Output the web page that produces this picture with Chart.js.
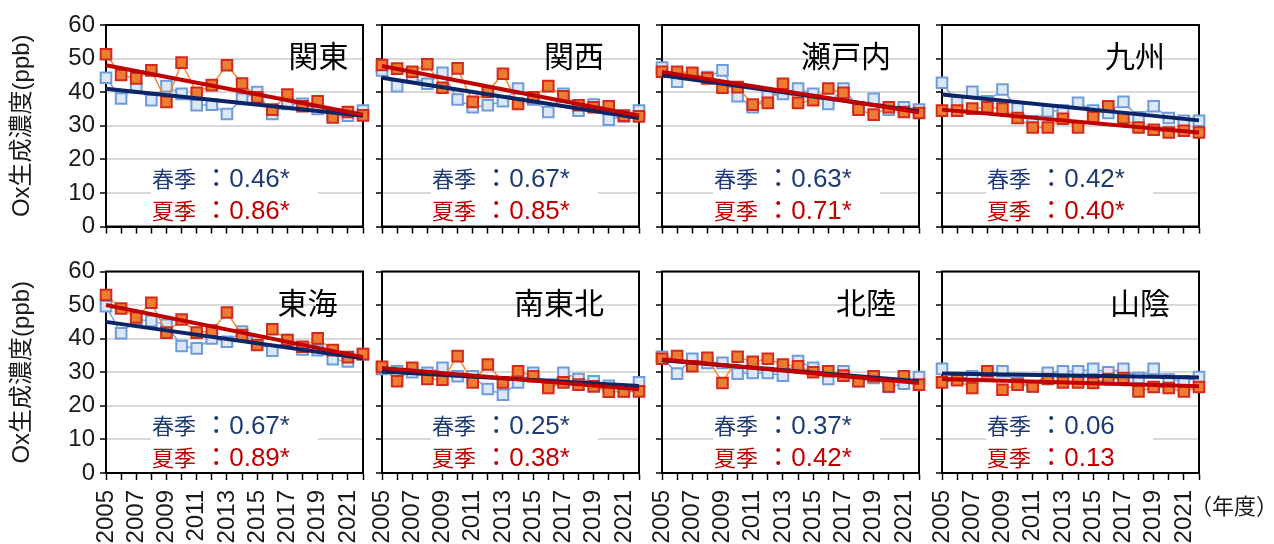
<!DOCTYPE html>
<html><head><meta charset="utf-8">
<script src="https://cdn.jsdelivr.net/npm/chart.js@4.4.1/dist/chart.umd.min.js"></script>
<style>
html,body{margin:0;padding:0;background:#fff;overflow:hidden;}
#wrap{position:relative;width:1274px;height:544px;}
#wrap canvas{position:absolute;left:0;top:0;}
</style></head><body><div id="wrap"></div>
<script>
// ---------- data ----------
const YEARS = [2005,2006,2007,2008,2009,2010,2011,2012,2013,2014,2015,2016,2017,2018,2019,2020,2021,2022];
const Y_MIN = 0, Y_MAX = 60, Y_STEP = 10;
const REGIONS = ['関東','関西','瀬戸内','九州','東海','南東北','北陸','山陰'];

const SPRING_KANTO = [44.3,38.1,41.5,37.6,41.8,39.5,36.1,36.3,33.5,38.0,40.0,33.5,36.5,36.5,35.0,33.0,33.0,34.5];
const SUMMER_KANTO = [51.3,45.1,44.1,46.5,37.1,48.8,39.8,42.1,48.0,42.6,38.5,34.8,39.3,35.8,37.3,32.5,34.1,33.1];
const SPRING_KANSAI = [46.5,41.8,44.5,42.5,45.8,37.8,35.5,36.1,37.3,41.1,37.8,34.1,39.5,34.5,36.3,31.8,32.8,34.5];
const SUMMER_KANSAI = [48.1,47.0,46.1,48.3,41.3,47.1,37.1,40.1,45.5,36.5,38.5,41.8,38.8,36.1,35.5,35.8,33.0,32.8];
const SPRING_SETOUCHI = [47.3,43.1,45.5,44.5,46.5,38.8,35.5,38.8,39.5,41.1,39.5,36.5,41.1,35.5,38.0,34.8,35.5,34.8];
const SUMMER_SETOUCHI = [46.1,46.1,45.8,44.1,41.3,41.5,36.3,36.8,42.5,36.8,37.6,41.1,39.8,34.8,33.3,35.5,34.1,33.8];
const SPRING_KYUSHU = [42.8,37.0,40.1,37.3,40.8,35.1,31.3,34.3,34.5,36.8,34.5,33.8,37.1,32.5,35.8,32.3,31.5,31.5];
const SUMMER_KYUSHU = [34.5,34.5,35.1,35.5,35.1,32.3,29.5,29.5,32.1,29.5,32.5,35.8,32.3,29.5,28.8,28.0,28.5,28.0];
const SPRING_TOKAI = [49.7,41.6,45.7,45.3,44.1,37.8,37.1,40.1,39.1,42.1,39.1,36.4,39.6,36.8,36.6,33.9,33.2,35.4];
const SUMMER_TOKAI = [53.0,49.0,46.3,50.7,41.8,45.7,41.8,42.4,47.8,41.1,38.1,42.8,39.6,37.6,40.1,36.6,34.5,35.4];
const SPRING_SOUTH_TOHOKU = [31.0,30.3,30.0,29.8,31.3,28.8,28.8,25.0,23.3,27.0,29.8,26.3,29.8,28.0,27.3,26.0,24.3,27.0];
const SUMMER_SOUTH_TOHOKU = [31.6,27.3,31.3,28.0,27.8,34.8,27.0,32.3,27.0,30.3,28.8,25.3,27.0,26.3,25.8,24.2,24.3,24.3];
const SPRING_HOKURIKU = [34.6,29.6,34.0,32.8,32.8,29.6,29.8,29.8,29.0,33.3,31.3,28.0,30.3,27.3,28.3,25.6,26.6,28.6];
const SUMMER_HOKURIKU = [34.0,34.8,31.8,34.3,26.8,34.6,33.1,34.0,32.3,31.8,30.0,30.3,29.0,27.3,28.8,25.8,28.8,26.3];
const SPRING_SANIN = [31.0,28.0,28.8,29.5,30.3,26.8,25.8,29.8,30.3,30.3,31.0,30.0,31.0,28.3,31.0,27.8,27.3,28.6];
const SUMMER_SANIN = [27.0,27.6,25.3,30.3,24.8,26.3,25.8,28.0,27.0,27.0,26.8,28.0,28.3,24.3,25.6,25.3,24.3,25.6];

// trend line values at 2005 and 2022
const SPRING_TREND_START = [41.0,44.3,45.0,39.3,45.0,30.2,33.6,29.6];
const SPRING_TREND_END   = [33.0,32.3,34.3,31.6,34.2,25.9,27.3,28.4];
const SUMMER_TREND_START = [48.0,47.8,46.0,34.8,50.0,31.3,33.8,28.0];
const SUMMER_TREND_END   = [33.3,33.0,34.0,28.0,34.5,24.9,26.8,25.8];

const SPRING_RATE = ['0.46*','0.67*','0.63*','0.42*','0.67*','0.25*','0.37*','0.06'];
const SUMMER_RATE = ['0.86*','0.85*','0.71*','0.40*','0.89*','0.38*','0.42*','0.13'];

const SPRING_SERIES = [SPRING_KANTO,SPRING_KANSAI,SPRING_SETOUCHI,SPRING_KYUSHU,SPRING_TOKAI,SPRING_SOUTH_TOHOKU,SPRING_HOKURIKU,SPRING_SANIN];
const SUMMER_SERIES = [SUMMER_KANTO,SUMMER_KANSAI,SUMMER_SETOUCHI,SUMMER_KYUSHU,SUMMER_TOKAI,SUMMER_SOUTH_TOHOKU,SUMMER_HOKURIKU,SUMMER_SANIN];

// ---------- layout ----------
const W = 1274, H = 544;
const PLOT_LEFT = [106, 382, 662, 942];
const PLOT_W = 257;
const PLOT_TOP = [25, 271.5];
const PLOT_H = 201.5;
const Y_AXIS_W = 60, X_AXIS_H = 70;
const TITLE_X = [318.5, 574, 846, 1135, 307.5, 559, 866, 1140];
const NOTE_X = [152, 432, 714, 987, 152, 432, 714, 987];

const LATIN = "'Liberation Sans', Arial, sans-serif";
const CJK = "'Noto Sans CJK JP', 'Noto Sans CJK SC', sans-serif";
const MIXED = "'Liberation Sans', Arial, 'Noto Sans CJK JP', sans-serif";

function drawSegs(ctx, segs, x, y) {
  for (const s of segs) {
    ctx.font = s.font;
    ctx.fillText(s.t, x, y);
    x += ctx.measureText(s.t).width;
  }
}

const decor = {
  id: 'decor',
  beforeDatasetsDraw(chart, args, o) {
    const ctx = chart.ctx, a = chart.chartArea;
    ctx.save();
    // frame
    ctx.strokeStyle = '#000'; ctx.lineWidth = 2;
    ctx.strokeRect(a.left, a.top, a.right - a.left, a.bottom - a.top);
    // note box
    ctx.fillStyle = '#fff';
    ctx.fillRect(o.noteX - 1, a.top + 138, 167, 60);
    ctx.textBaseline = 'alphabetic'; ctx.textAlign = 'left';
    ctx.fillStyle = '#1F3B73';
    drawSegs(ctx, [{t:'春季', font:`22px ${CJK}`},{t:' ：', font:`26px ${MIXED}`},{t:o.spring, font:`26px ${LATIN}`}], o.noteX, a.top + 162.3);
    ctx.fillStyle = '#C00000';
    drawSegs(ctx, [{t:'夏季', font:`22px ${CJK}`},{t:' ：', font:`26px ${MIXED}`},{t:o.summer, font:`26px ${LATIN}`}], o.noteX, a.top + 194);
    // title
    ctx.font = `30px ${CJK}`; ctx.fillStyle = '#000';
    ctx.textAlign = 'center'; ctx.textBaseline = 'middle';
    ctx.fillText(o.title, o.titleX, a.top + 31);
    ctx.restore();
  },
  afterDraw(chart, args, o) {
    const ctx = chart.ctx, a = chart.chartArea;
    ctx.save();
    ctx.fillStyle = '#1a1a1a';
    if (o.yTitle) {
      ctx.translate(22, (a.top + a.bottom) / 2);
      ctx.rotate(-Math.PI / 2);
      ctx.textAlign = 'center'; ctx.textBaseline = 'middle';
      ctx.font = `24px ${MIXED}`;
      ctx.fillText('Ox生成濃度(ppb)', 0, 0);
      ctx.setTransform(1,0,0,1,0,0);
    }
    if (o.unit) {
      ctx.textAlign = 'left'; ctx.textBaseline = 'middle';
      ctx.font = `22px ${CJK}`;
      ctx.fillText('（年度）', 1190, 506);
    }
    ctx.restore();
  }
};

const wrap = document.getElementById('wrap');
REGIONS.forEach((name, i) => {
  const col = i % 4, row = Math.floor(i / 4);
  const cv = document.createElement('canvas');
  cv.width = W; cv.height = H;
  wrap.appendChild(cv);
  const pts = arr => YEARS.map((y, k) => ({x: y, y: arr[k]}));
  new Chart(cv, {
    type: 'line',
    data: {
      datasets: [
        { data: [{x: YEARS[0], y: SUMMER_TREND_START[i]}, {x: YEARS[YEARS.length-1], y: SUMMER_TREND_END[i]}],
          borderColor: '#C00000', borderWidth: 4, pointRadius: 0, clip: false },
        { data: [{x: YEARS[0], y: SPRING_TREND_START[i]}, {x: YEARS[YEARS.length-1], y: SPRING_TREND_END[i]}],
          borderColor: '#0B2566', borderWidth: 4, pointRadius: 0, clip: false },
        { data: pts(SUMMER_SERIES[i]), borderColor: '#F28A3A', borderWidth: 1.5,
          pointStyle: 'rect', pointRadius: 7.5, pointBackgroundColor: '#ED7D31',
          pointBorderColor: '#D42A1E', pointBorderWidth: 2, clip: false },
        { data: pts(SPRING_SERIES[i]), borderColor: '#76A2DE', borderWidth: 1.5,
          pointStyle: 'rect', pointRadius: 7.5, pointBackgroundColor: '#DCE8F6',
          pointBorderColor: '#6F9BDA', pointBorderWidth: 2, clip: false }
      ]
    },
    options: {
      responsive: false, animation: false, devicePixelRatio: 1,
      events: [],
      layout: { padding: {
        left: PLOT_LEFT[col] - Y_AXIS_W,
        top: PLOT_TOP[row],
        right: W - PLOT_LEFT[col] - PLOT_W,
        bottom: H - PLOT_TOP[row] - PLOT_H - X_AXIS_H } },
      elements: { line: { tension: 0 } },
      plugins: {
        legend: { display: false }, tooltip: { enabled: false },
        decor: { title: name, titleX: TITLE_X[i], noteX: NOTE_X[i],
                 spring: SPRING_RATE[i], summer: SUMMER_RATE[i],
                 yTitle: col === 0, unit: i === 7 }
      },
      scales: {
        x: {
          type: 'linear', min: YEARS[0], max: YEARS[YEARS.length-1],
          afterBuildTicks: ax => { ax.ticks = YEARS.map(v => ({value: v})); },
          afterFit: s => { s.height = X_AXIS_H; },
          ticks: { display: row === 1, autoSkip: false, minRotation: 90, maxRotation: 90,
                   padding: 10, color: '#1a1a1a', font: { family: LATIN, size: 24 },
                   callback: v => ((v - YEARS[0]) % 2 === 0 ? String(v) : '') },
          grid: { drawOnChartArea: false, tickLength: 7, tickColor: '#000', tickWidth: 1.5 },
          border: { color: '#000', width: 2 }
        },
        y: {
          min: Y_MIN, max: Y_MAX,
          afterFit: s => { s.width = Y_AXIS_W; },
          ticks: { display: col === 0, stepSize: Y_STEP, padding: 5, color: '#1a1a1a',
                   font: { family: LATIN, size: 24 } },
          grid: { color: '#D9D9D9', lineWidth: 2, tickColor: '#000', tickLength: 6, tickWidth: 1.5 },
          border: { color: '#000', width: 2 }
        }
      }
    },
    plugins: [decor]
  });
});
</script></body></html>
